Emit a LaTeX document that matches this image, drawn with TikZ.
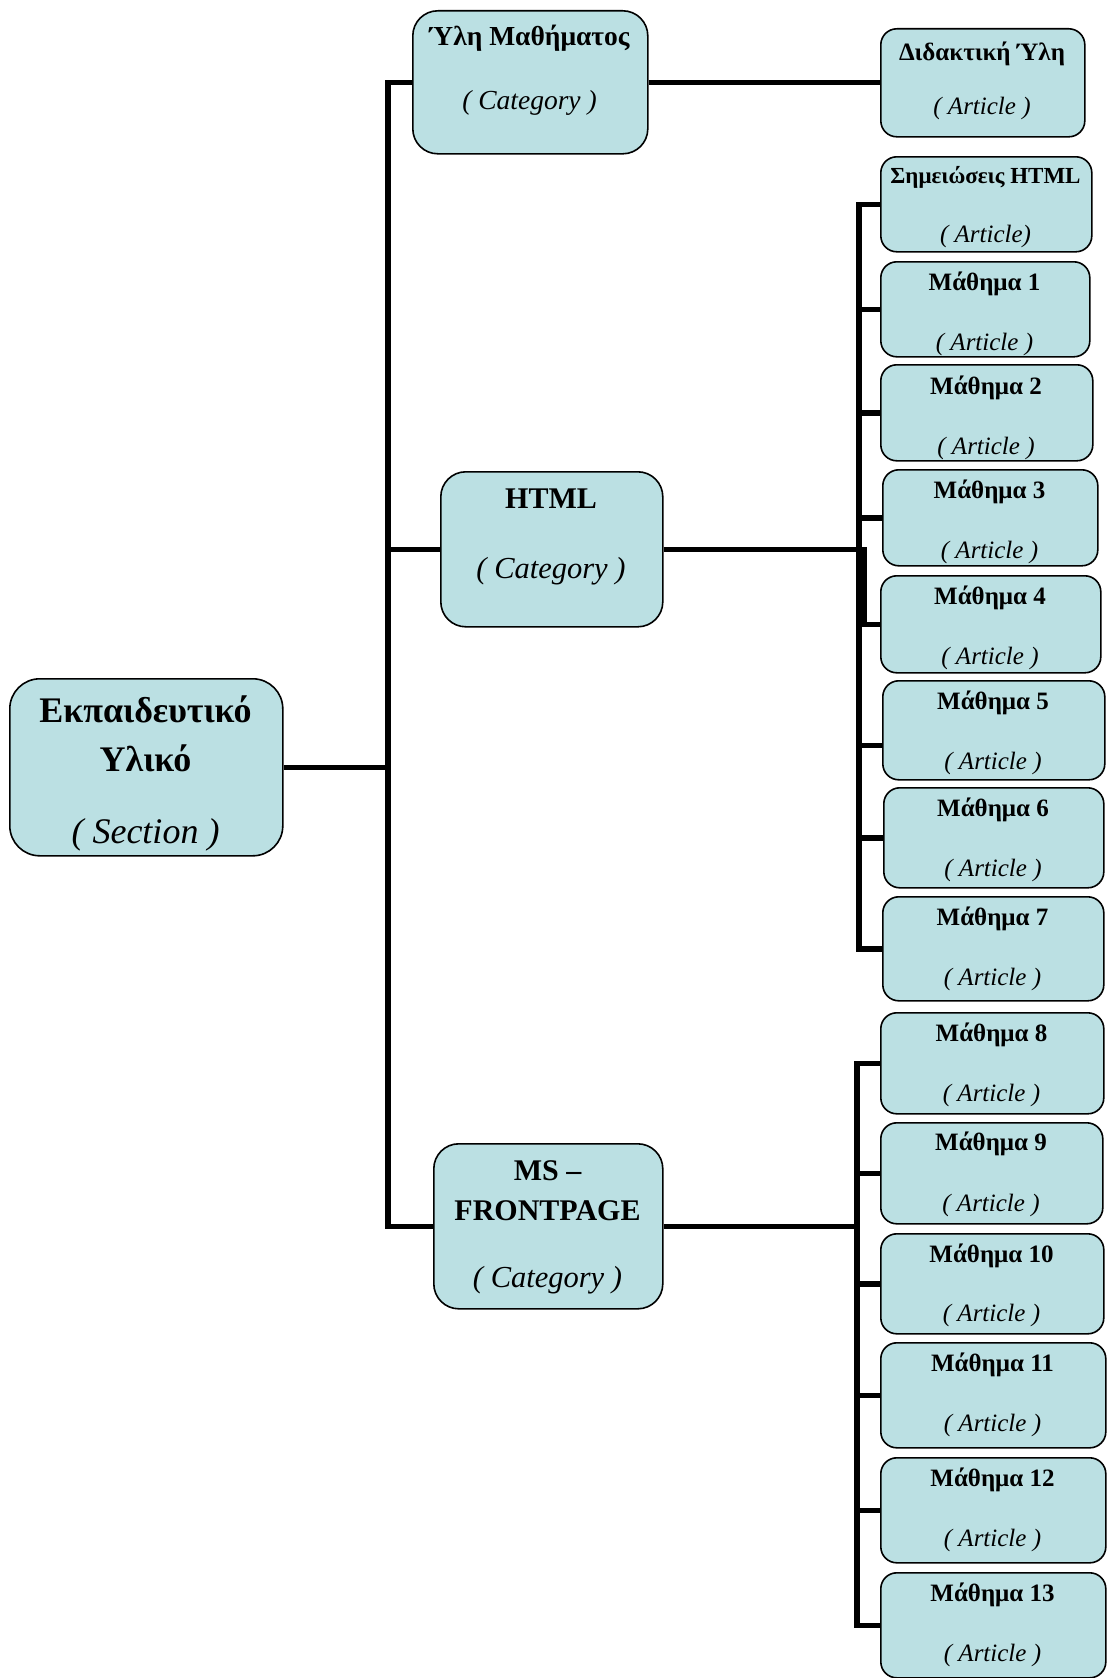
\documentclass[tikz,border=0pt]{standalone}
\usepackage{fontspec}
\setmainfont{Liberation Serif}
\usetikzlibrary{calc,backgrounds}
\definecolor{boxfill}{RGB}{187,224,227}
\tikzset{
  boxst/.style={draw=black,line width=1.6pt,fill=boxfill,inner sep=0pt,anchor=north west},
  conn/.style={line width=5.5pt,line join=miter,draw=black},
  ttl/.style={font=\bfseries\fontsize{#1}{#1}\selectfont,inner sep=0pt,anchor=base},
  typ/.style={font=\itshape\fontsize{#1}{#1}\selectfont,inner sep=0pt,anchor=base}
}
\begin{document}
\begin{tikzpicture}[x=1pt,y=-1pt]
\useasboundingbox (0,0) rectangle (1106,1678);
% root
\node[boxst,rounded corners=30pt,minimum width=273pt,minimum height=177pt] (root) at (9,678) {};
\node[ttl=36] (root-t1) at (145.5,{710+12}) {Εκπαιδευτικό};
\node[ttl=36] (root-t2) at (145.5,{759+12}) {Υλικό};
\node[typ=36] (root-a) at (145.5,{831+12}) {( Section )};
% categories
\node[boxst,rounded corners=25pt,minimum width=235pt,minimum height=143pt] (yli) at (412,10) {};
\node[ttl=27.5] (yli-t) at (529.5,{37+9}) {Ύλη Μαθήματος};
\node[typ=27.5] (yli-a) at (529.5,{100+9}) {( Category )};
\node[boxst,rounded corners=25pt,minimum width=222pt,minimum height=155pt] (html) at (440,471) {};
\node[ttl=30] (html-t) at (551,{498+10}) {HTML};
\node[typ=30.5] (html-a) at (551,{568.5+10}) {( Category )};
\node[boxst,rounded corners=25pt,minimum width=229pt,minimum height=165pt] (ms) at (433,1143) {};
\node[ttl=30] (ms-t1) at (547.5,{1170+10}) {MS –};
\node[ttl=30] (ms-t2) at (547.5,{1210+10}) {FRONTPAGE};
\node[typ=30.5] (ms-a) at (547.5,{1277+10}) {( Category )};
% articles
\node[boxst,rounded corners=16pt,minimum width=204pt,minimum height=108pt] (did) at (880,28) {};
\node[ttl=25] (did-t) at (982,{52+8}) {Διδακτική Ύλη};
\node[typ=25] (did-a) at (982,{106+8}) {( Article )};
\node[boxst,rounded corners=16pt,minimum width=211pt,minimum height=95pt] (sim) at (880,156) {};
\node[ttl=23] (sim-t) at (985.5,{176+7.5}) {Σημειώσεις HTML};
\node[typ=25] (sim-a) at (985.5,{234+8}) {( Article)};
\foreach \n/\xa/\ya/\xb/\yb/\t/\ty/\ay in {
  m1/880/261/1089/356/Μάθημα 1/282/342,
  m2/880/364/1092/460/Μάθημα 2/386/446,
  m3/882/469/1097/565/Μάθημα 3/490/550,
  m4/880/575/1100/672/Μάθημα 4/596/656,
  m5/882/680/1104/779/Μάθημα 5/701/761,
  m6/883/787/1103/887/Μάθημα 6/808.5/868,
  m7/882/896/1103/1000/Μάθημα 7/917/977,
  m8/880/1012/1103/1113/Μάθημα 8/1033/1093,
  m9/880/1122/1102/1223/Μάθημα 9/1142/1203,
  m10/880/1233/1103/1333/Μάθημα 10/1254/1313,
  m11/880/1342/1105/1447/Μάθημα 11/1363/1423,
  m12/880/1457/1105/1562/Μάθημα 12/1478/1538,
  m13/880/1572/1105/1677/Μάθημα 13/1593/1653}
{
  \node[boxst,rounded corners=16pt,minimum width={(\xb-\xa)*1pt},minimum height={(\yb-\ya)*1pt}] (\n) at (\xa,\ya) {};
  \node[ttl=25] (\n-t) at ({(\xa+\xb)/2},{\ty+8}) {\t};
  \node[typ=25] (\n-a) at ({(\xa+\xb)/2},{\ay+8}) {( Article )};
}
% connectors
\coordinate (tt) at (388,0);
\coordinate (hb) at (859,0);
\coordinate (hb2) at (864,0);
\coordinate (mb) at (857,0);
\begin{scope}[on background layer]
\draw[conn] (root.east) -- (root.east -| tt);
\draw[conn] (yli.west) -- (yli.west -| tt) -- (ms.west -| tt) -- (ms.west);
\draw[conn] (html.west) -- (html.west -| tt);
\draw[conn] (yli.east) -- (yli.east -| did.west);
\draw[conn] (html.east) -- (html.east -| hb2) -- (m4.west -| hb2);
\draw[conn] (sim.west) -- (sim.west -| hb) -- (m7.west -| hb) -- (m7.west);
\foreach \n in {m1,m2,m3,m4,m6}{\draw[conn] (\n.west -| hb) -- (\n.west);}
\draw[conn] ($(m5.west -| hb)+(0,15)$) -- ($(m5.west)+(0,15)$);
\draw[conn] (ms.east) -- (ms.east -| mb);
\draw[conn] (m8.west) -- (m8.west -| mb) -- (m13.west -| mb) -- (m13.west);
\foreach \n in {m9,m10,m11,m12}{\draw[conn] (\n.west -| mb) -- (\n.west);}
\end{scope}
\end{tikzpicture}
\end{document}
